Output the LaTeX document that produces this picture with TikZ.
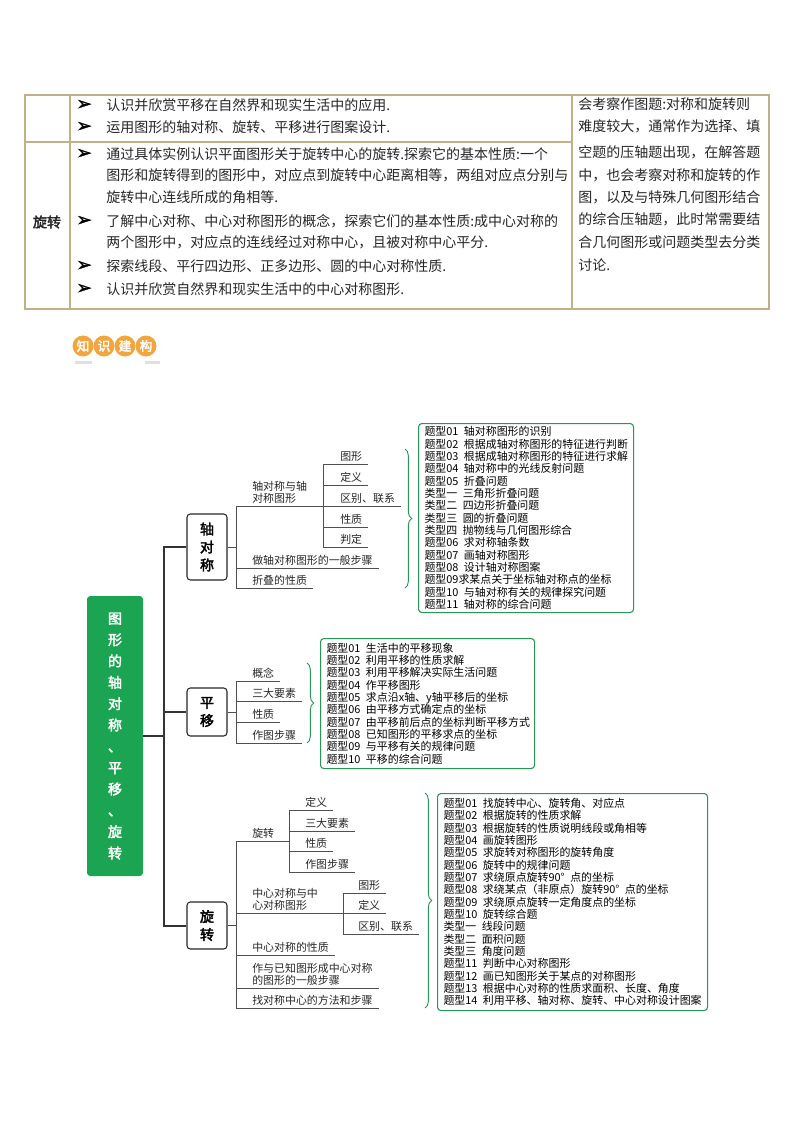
\documentclass[tikz,border=0pt]{standalone}
\usepackage{fontspec}
\setmainfont{Noto Sans CJK SC}
\newfontfamily\boldcjk[FakeBold=2.5]{Noto Sans CJK SC}
\newfontfamily\symfont[FakeBold=1.5]{DejaVu Sans}
\usetikzlibrary{decorations.pathreplacing}
\definecolor{tabrulecol}{RGB}{192,178,135}
\definecolor{rootgreen}{RGB}{27,164,82}
\definecolor{listgreen}{RGB}{40,150,86}
\definecolor{badgeorange}{RGB}{243,165,62}
\definecolor{linegray}{RGB}{80,80,80}
\tikzset{
  tabrule/.style={draw=tabrulecol, line width=0.8pt},
  tabtext/.style={anchor=west, inner sep=0pt, text=black!85, font=\fontsize{10.5}{12}\selectfont},
  tabbullet/.style={anchor=west, inner sep=0pt, font=\symfont\fontsize{14}{14}\selectfont},
  badge/.style={circle, fill=badgeorange, minimum size=15.75pt, inner sep=0pt, text=white, font=\boldcjk\fontsize{9.5}{10}\selectfont},
  rootbox/.style={fill=rootgreen, rounded corners=2.5pt, text=white, align=center, inner sep=0pt, minimum width=42pt, minimum height=210pt, font=\boldcjk\fontsize{10.5}{16}\selectfont},
  topicbox/.style={draw=black!85, line width=0.8pt, fill=white, rounded corners=2.5pt, align=center, inner sep=0pt, minimum width=30pt, font=\boldcjk\fontsize{10.5}{13.5}\selectfont},
  spine/.style={draw=black!80, line width=1.5pt},
  branch/.style={draw=linegray, line width=0.6pt},
  leaf/.style={anchor=south west, inner xsep=0pt, inner ysep=1.5pt, align=left, text=black!85, font=\fontsize{8.2}{9.4}\selectfont},
  listbox/.style={draw=listgreen, line width=0.8pt, rounded corners=2.5pt, anchor=north west, align=left, inner xsep=4.5pt, inner ysep=0pt, font=\fontsize{8.2}{9.26}\selectfont},
  bracket/.style={draw=listgreen, line width=0.7pt, decorate, decoration={brace, amplitude=5pt}}
}
\begin{document}
\begin{tikzpicture}[x=0.75pt,y=-0.75pt]
\useasboundingbox (0,0) rectangle (794,1123);

\draw[tabrule] (25,95) rectangle (769,309);
\draw[tabrule] (70,95) -- (70,309);
\draw[tabrule] (572,95) -- (572,309);
\draw[tabrule] (25,142) -- (572,142);
\node[tabtext, anchor=center, font=\boldcjk\fontsize{10.5}{12}\selectfont] (rothead) at (47,222) {旋转};
\foreach \y [count=\i] in {105,127,154,221,266,289}
  \node[tabbullet] (bul\i) at (76,\y) {➢};
\foreach \y/\t [count=\i] in {105/认识并欣赏平移在自然界和现实生活中的应用.,
    127/运用图形的轴对称、旋转、平移进行图案设计.}
  \node[tabtext] (p\i) at (106,\y) {\t};
\foreach \y/\t [count=\i] in {154/通过具体实例认识平面图形关于旋转中心的旋转.探索它的基本性质:一个,
    175/图形和旋转得到的图形中，对应点到旋转中心距离相等，两组对应点分别与,
    197/旋转中心连线所成的角相等.,
    221/了解中心对称、中心对称图形的概念，探索它们的基本性质:成中心对称的,
    242/两个图形中，对应点的连线经过对称中心，且被对称中心平分.,
    266/探索线段、平行四边形、正多边形、圆的中心对称性质.,
    289/认识并欣赏自然界和现实生活中的中心对称图形.}
  \node[tabtext] (q\i) at (106,\y) {\t};
\foreach \y/\t [count=\i] in {104/会考察作图题:对称和旋转则,
    126/难度较大，通常作为选择、填,
    152/空题的压轴题出现，在解答题,
    175/中，也会考察对称和旋转的作,
    197/图，以及与特殊几何图形结合,
    219/的综合压轴题，此时常需要结,
    242/合几何图形或问题类型去分类,
    265/讨论.}
  \node[tabtext] (rc\i) at (578,\y) {\t};

\node[badge] (k1) at (83,346) {知};
\node[badge] (k2) at (104,346) {识};
\node[badge] (k3) at (125,346) {建};
\node[badge] (k4) at (146,346) {构};
\fill[black!12] (75,361) rectangle (92,364);
\fill[black!12] (145,361) rectangle (160,364);

\node[rootbox] (root) at (115,736) {图\\形\\的\\轴\\对\\称\\、\\平\\移\\、\\旋\\转};
\node[topicbox, minimum height=49.5pt] (axis) at (207,547) {轴\\对\\称};
\node[topicbox, minimum height=36pt] (trans) at (207,712) {平\\移};
\node[topicbox, minimum height=35.25pt] (rot) at (207,925.5) {旋\\转};
\coordinate (spinetop) at (164,547);
\coordinate (spinebot) at (164,925.5);
\draw[spine] (axis.west) -- (spinetop) -- (spinebot) -- (rot.west);
\draw[spine] (trans.west) -- (trans.west -| spinetop);
\draw[spine] (root.east) -- (root.east -| spinetop);

\coordinate (ah) at (236,547);
\coordinate (as) at (323,506);
\node[leaf] (a1) at (252,506) {轴对称与轴\\对称图形};
\node[leaf] (a2) at (252,568) {做轴对称图形的一般步骤};
\node[leaf] (a3) at (252,588) {折叠的性质};
\node[leaf] (b1) at (340,464) {图形};
\node[leaf] (b2) at (340,485) {定义};
\node[leaf] (b3) at (340,506) {区别、联系};
\node[leaf] (b4) at (340,527) {性质};
\node[leaf] (b5) at (340,547) {判定};
\draw[branch] (axis.east) -- (ah);
\draw[branch] (ah |- a1.south) -- (ah |- a3.south);
\draw[branch] (ah |- a1.south) -- (as);
\foreach \n in {a2,a3}
  \draw[branch] (ah |- \n.south) -- ([xshift=4.5pt]\n.south east);
\draw[branch] (as |- b1.south) -- (as |- b5.south);
\foreach \n in {b1,b2,b3,b4,b5}
  \draw[branch] (as |- \n.south) -- ([xshift=4.5pt]\n.south east);
\draw[bracket] (405,449) -- (405,588);
\node[listbox, text width=152.25pt, minimum height=141.75pt] (alist) at (418,423) {题型01\enspace 轴对称图形的识别\\
题型02\enspace 根据成轴对称图形的特征进行判断\\
题型03\enspace 根据成轴对称图形的特征进行求解\\
题型04\enspace 轴对称中的光线反射问题\\
题型05\enspace 折叠问题\\
类型一\enspace 三角形折叠问题\\
类型二\enspace 四边形折叠问题\\
类型三\enspace 圆的折叠问题\\
类型四\enspace 抛物线与几何图形综合\\
题型06\enspace 求对称轴条数\\
题型07\enspace 画轴对称图形\\
题型08\enspace 设计轴对称图案\\
题型09求某点关于坐标轴对称点的坐标\\
题型10\enspace 与轴对称有关的规律探究问题\\
题型11\enspace 轴对称的综合问题};

\coordinate (th) at (236,712);
\node[leaf] (t1) at (252,681) {概念};
\node[leaf] (t2) at (252,701) {三大要素};
\node[leaf] (t3) at (252,722) {性质};
\node[leaf] (t4) at (252,743) {作图步骤};
\draw[branch] (trans.east) -- (th);
\draw[branch] (th |- t1.south) -- (th |- t4.south);
\foreach \n in {t1,t2,t3,t4}
  \draw[branch] (th |- \n.south) -- ([xshift=4.5pt]\n.south east);
\draw[bracket] (307,663) -- (307,743);
\node[listbox, text width=151.5pt, minimum height=97.5pt] (tlist) at (320,638) {题型01\enspace 生活中的平移现象\\
题型02\enspace 利用平移的性质求解\\
题型03\enspace 利用平移解决实际生活问题\\
题型04\enspace 作平移图形\\
题型05\enspace 求点沿x轴、y轴平移后的坐标\\
题型06\enspace 由平移方式确定点的坐标\\
题型07\enspace 由平移前后点的坐标判断平移方式\\
题型08\enspace 已知图形的平移求点的坐标\\
题型09\enspace 与平移有关的规律问题\\
题型10\enspace 平移的综合问题};

\coordinate (rh) at (236,925.5);
\coordinate (rs1) at (289,841);
\coordinate (rs2) at (343,913);
\node[leaf] (c1) at (252,841) {旋转};
\node[leaf] (c2) at (252,913) {中心对称与中\\心对称图形};
\node[leaf] (c3) at (252,955) {中心对称的性质};
\node[leaf] (c4) at (252,988) {作与已知图形成中心对称\\的图形的一般步骤};
\node[leaf] (c5) at (252,1008) {找对称中心的方法和步骤};
\node[leaf] (d1) at (305,810) {定义};
\node[leaf] (d2) at (305,831) {三大要素};
\node[leaf] (d3) at (305,851) {性质};
\node[leaf] (d4) at (305,872) {作图步骤};
\node[leaf] (e1) at (358,893) {图形};
\node[leaf] (e2) at (358,913) {定义};
\node[leaf] (e3) at (358,934) {区别、联系};
\draw[branch] (rot.east) -- (rh);
\draw[branch] (rh |- c1.south) -- (rh |- c5.south);
\draw[branch] (rh |- c1.south) -- (rs1);
\draw[branch] (rh |- c2.south) -- (rs2);
\foreach \n in {c3,c4,c5}
  \draw[branch] (rh |- \n.south) -- ([xshift=4.5pt]\n.south east);
\draw[branch] (rs1 |- d1.south) -- (rs1 |- d4.south);
\foreach \n in {d1,d2,d3,d4}
  \draw[branch] (rs1 |- \n.south) -- ([xshift=4.5pt]\n.south east);
\draw[branch] (rs2 |- e1.south) -- (rs2 |- e3.south);
\foreach \n in {e1,e2,e3}
  \draw[branch] (rs2 |- \n.south) -- ([xshift=4.5pt]\n.south east);
\draw[bracket] (425,793) -- (425,1008);
\node[listbox, text width=193.5pt, minimum height=162.75pt] (rlist) at (437,793) {题型01\enspace 找旋转中心、旋转角、对应点\\
题型02\enspace 根据旋转的性质求解\\
题型03\enspace 根据旋转的性质说明线段或角相等\\
题型04\enspace 画旋转图形\\
题型05\enspace 求旋转对称图形的旋转角度\\
题型06\enspace 旋转中的规律问题\\
题型07\enspace 求绕原点旋转90°\enspace 点的坐标\\
题型08\enspace 求绕某点（非原点）旋转90°\enspace 点的坐标\\
题型09\enspace 求绕原点旋转一定角度点的坐标\\
题型10\enspace 旋转综合题\\
类型一\enspace 线段问题\\
类型二\enspace 面积问题\\
类型三\enspace 角度问题\\
题型11\enspace 判断中心对称图形\\
题型12\enspace 画已知图形关于某点的对称图形\\
题型13\enspace 根据中心对称的性质求面积、长度、角度\\
题型14\enspace 利用平移、轴对称、旋转、中心对称设计图案};
\end{tikzpicture}
\end{document}
